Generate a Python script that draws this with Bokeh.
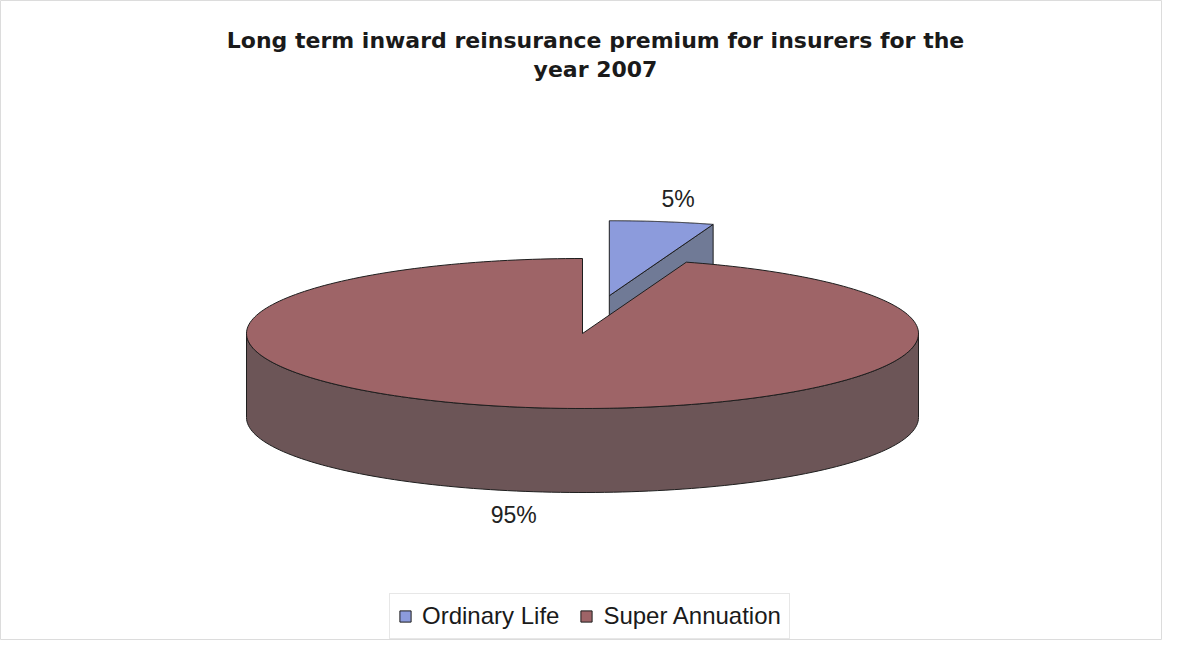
import numpy as np
from bokeh.plotting import figure
from bokeh.models import Range1d, Label, Legend, LegendItem
from bokeh.embed import file_html
from bokeh.resources import INLINE

# ---- data ----
categories = ["Ordinary Life", "Super Annuation"]
values = [5, 95]
title_lines = ["Long term inward reinsurance premium for insurers for the", "year 2007"]

# ---- style ----
top_colors = ["#8c9bdc", "#9e6467"]
side_colors = ["#707a96", "#6c5557"]
explode = [0.51, 0.0]
CX, CY, A, B, H = 582, 333, 336, 75, 84
START = 90.0
FONT = "Liberation Sans"

W, HT = 1162, 640
p = figure(width=W, height=HT, output_backend="svg", toolbar_location=None,
           x_range=Range1d(0, W), y_range=Range1d(HT, 0),
           x_axis_type=None, y_axis_type=None, min_border=0,
           outline_line_color="#dcdcdc", background_fill_color="white")
p.grid.visible = False


def ell(theta, ox, oy, dz=0.0):
    t = np.radians(theta)
    return CX + ox + A * np.cos(t), CY + oy - B * np.sin(t) + dz


total = float(sum(values))
slices = []
s = START
for i, v in enumerate(values):
    e = s - 360.0 * v / total
    mid = (s + e) / 2
    ox = A * explode[i] * np.cos(np.radians(mid))
    oy = -B * explode[i] * np.sin(np.radians(mid))
    slices.append((i, s, e, mid, ox, oy))
    s = e

# draw back slices first
order = sorted(slices, key=lambda t: -np.sin(np.radians(t[3])))
legend_items = {}
for (i, s, e, mid, ox, oy) in order:
    sx, sy = [], []
    # radial faces
    for ang, normal in ((s, s + 90), (e, e - 90)):
        if np.sin(np.radians(normal)) < -1e-6:
            x0, y0 = CX + ox, CY + oy
            x1, y1 = ell(ang, ox, oy)
            sx.append([x0, x1, x1, x0])
            sy.append([y0, y1, y1 + H, y0 + H])
    # curved front side
    for k in (-1, 0, 1):
        lo, hi = k * 360 - 180, k * 360
        a0, a1 = max(lo, e), min(hi, s)
        if a1 > a0:
            th = np.linspace(a1, a0, 120)
            xt, yt = ell(th, ox, oy)
            xb, yb = ell(th[::-1], ox, oy, H)
            sx.append(list(xt) + list(xb))
            sy.append(list(yt) + list(yb))
    if sx:
        p.patches(xs=sx, ys=sy, fill_color=side_colors[i], line_color="#1e1e1e",
                  line_width=1)
    th = np.linspace(s, e, 240)
    xt, yt = ell(th, ox, oy)
    r = p.patches(xs=[[CX + ox] + list(xt)], ys=[[CY + oy] + list(yt)],
                  fill_color=top_colors[i], line_color="#1e1e1e", line_width=1)
    legend_items[i] = r

    # percentage label
    kx = 1.31
    lx = CX + ox + A * kx * np.cos(np.radians(mid))
    ly = CY + oy - B * kx * np.sin(np.radians(mid)) + (H if np.sin(np.radians(mid)) < 0 else 0)
    p.add_layout(Label(x=lx, y=ly, text=f"{round(100 * values[i] / total)}%",
                       text_align="center", text_baseline="middle",
                       text_font=FONT, text_font_size="23px", text_color="#222222"))

# title
for j, line in enumerate(title_lines):
    p.add_layout(Label(x=595, y=40 + 29 * j, text=line, text_align="center",
                       text_baseline="middle", text_font="DejaVu Sans",
                       text_font_size="22px", text_font_style="bold",
                       text_color="#1a1a1a"))

legend = Legend(items=[LegendItem(label=categories[i], renderers=[legend_items[i]])
                       for i in range(len(categories))],
                orientation="horizontal", location=(389, 1),
                label_text_font=FONT, label_text_font_size="24px",
                label_text_color="#1a1a1a",
                glyph_width=14, glyph_height=14, label_standoff=10, spacing=20,
                padding=8, margin=0, border_line_color="#cfcfcf",
                background_fill_alpha=1.0)
p.add_layout(legend)

open("out.html", "w").write(file_html(p, INLINE))
